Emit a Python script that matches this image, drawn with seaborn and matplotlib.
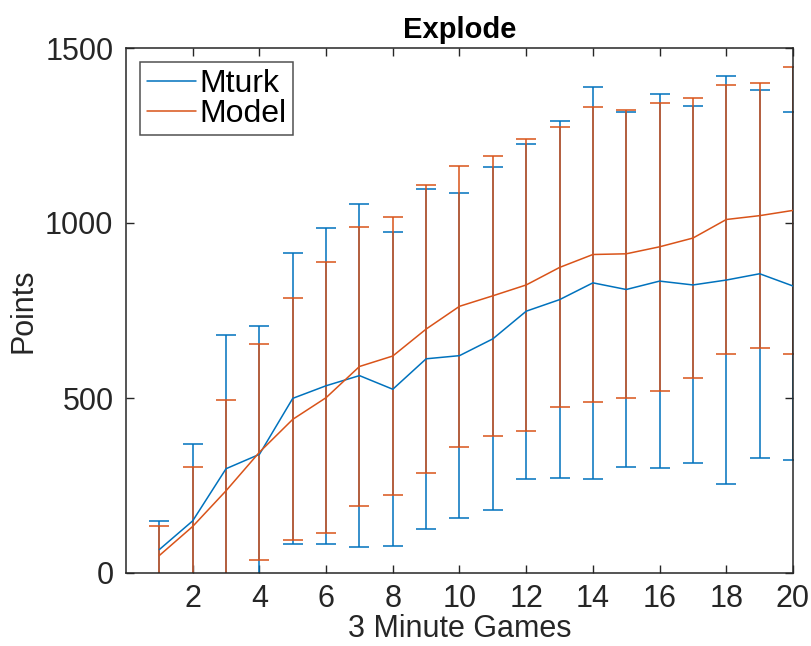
import numpy as np
import pandas as pd
import matplotlib
matplotlib.use("Agg")
import matplotlib.pyplot as plt
import seaborn as sns

games = list(range(1, 21))
mturk_mean = [67, 149, 298, 339, 499, 535, 564, 525, 612, 621, 669, 748, 781, 829, 810, 834, 823, 837, 855, 820]
mturk_err = [83, 220, 381, 368, 416, 452, 490, 448, 485, 464, 490, 479, 510, 560, 507, 534, 510, 584, 525, 496]
model_mean = [50, 133, 235, 345, 439, 501, 590, 620, 697, 762, 792, 823, 873, 910, 912, 932, 957, 1010, 1021, 1036]
model_err = [83, 169, 258, 308, 346, 387, 398, 396, 411, 401, 400, 416, 400, 421, 412, 412, 399, 384, 379, 409]

x_ticks = [2, 4, 6, 8, 10, 12, 14, 16, 18, 20]
y_ticks = [0, 500, 1000, 1500]

sns.set_theme(style="white")
plt.rcParams['font.family'] = ['Liberation Sans', 'DejaVu Sans']

blue = "#0072BD"
orange = "#D95319"

df = pd.concat([
    pd.DataFrame({"game": games, "points": mturk_mean, "err": mturk_err, "source": "Mturk"}),
    pd.DataFrame({"game": games, "points": model_mean, "err": model_err, "source": "Model"}),
])

fig = plt.figure(figsize=(8.12, 6.46), dpi=100)
ax = fig.add_axes([126/812, 1-573/646, (793-126)/812, (573-48)/646])

palette = {"Mturk": blue, "Model": orange}
for name, sub in df.groupby("source", sort=False):
    ax.errorbar(sub["game"], sub["points"], yerr=sub["err"], fmt="none",
                ecolor=palette[name], elinewidth=1.1, capsize=7.5, capthick=1.1, zorder=2)
sns.lineplot(data=df, x="game", y="points", hue="source", palette=palette,
             linewidth=1.1, ax=ax, zorder=3, errorbar=None)

ax.set_xlim(0, 20)
ax.set_ylim(0, 1500)
ax.set_xticks(x_ticks)
ax.set_yticks(y_ticks)
ax.tick_params(axis="both", direction="in", length=6, width=1, colors="#262626",
               labelsize=22, top=True, right=True, bottom=True, left=True)
ax.tick_params(axis="x", pad=8)
ax.tick_params(axis="y", pad=9)
for s in ax.spines.values():
    s.set_visible(True)
    s.set_color("#262626")
    s.set_linewidth(1.1)

ax.set_title("Explode", fontsize=21, fontweight="bold", color="black", pad=7)
ax.set_xlabel("3 Minute Games", fontsize=22, color="#262626", labelpad=0)
ax.set_ylabel("Points", fontsize=22, color="#262626", labelpad=5)

leg = ax.legend(loc="upper left", fontsize=23, frameon=True, fancybox=False,
                handlelength=1.55, handletextpad=0.1, borderpad=0.2,
                labelspacing=0.0, borderaxespad=0.45, title=None)
leg.get_frame().set_edgecolor("#262626")
leg.get_frame().set_linewidth(1.1)
for t in leg.get_texts():
    t.set_color("black")
for line in leg.get_lines():
    line.set_linewidth(1.1)

fig.savefig("out.png", dpi=100)
